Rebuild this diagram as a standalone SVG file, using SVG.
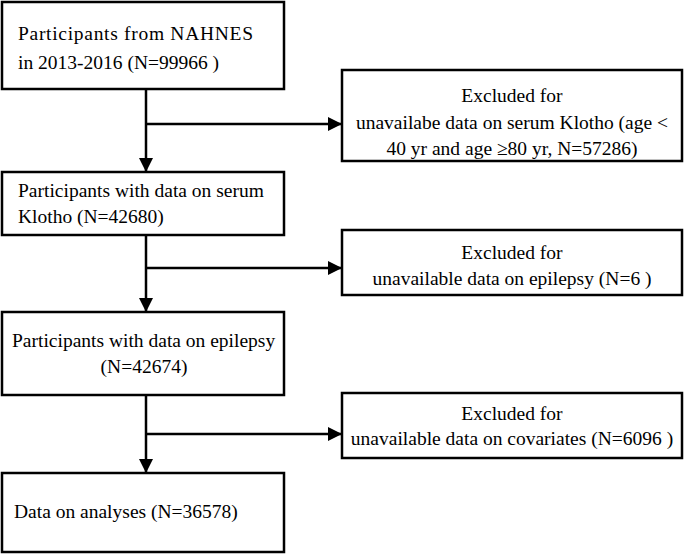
<svg xmlns="http://www.w3.org/2000/svg" width="685" height="557" viewBox="0 0 685 557">
<style>
.b{fill:#fff;stroke:#000;stroke-width:2.5}
text{font-family:"Liberation Serif",serif;font-size:19.5px;fill:#000}
.c{text-anchor:middle}
line{stroke:#000;stroke-width:2.5}
</style>
<defs><marker id="b" markerWidth="14" markerHeight="14" refX="13" refY="7" orient="auto" markerUnits="userSpaceOnUse" viewBox="0 0 14 14"><path d="M0,0 L14,7 L0,14 z" fill="#000"/></marker></defs>
<rect width="685" height="557" fill="#fff"/>
<g id="n1"><rect class="b" x="2" y="2" width="282" height="87"/><text x="18" y="40" textLength="235">Participants from NAHNES</text><text x="18" y="69">in 2013-2016 (N=99966 )</text></g>
<g id="n2"><rect class="b" x="342" y="70" width="340" height="91"/><text class="c" x="512" y="102">Excluded for</text><text class="c" x="512" y="129">unavailabe data on serum Klotho (age &lt;</text><text class="c" x="512" y="155">40 yr and age ≥80 yr, N=57286)</text></g>
<g id="n3"><rect class="b" x="2" y="172" width="282" height="63"/><text x="18" y="197">Participants with data on serum</text><text x="18" y="223">Klotho (N=42680)</text></g>
<g id="n4"><rect class="b" x="342" y="230" width="340" height="65"/><text class="c" x="512" y="259">Excluded for</text><text class="c" x="512" y="285">unavailable data on epilepsy (N=6 )</text></g>
<g id="n5"><rect class="b" x="2" y="312" width="282" height="83"/><text x="12" y="347">Participants with data on epilepsy</text><text class="c" x="144" y="373">(N=42674)</text></g>
<g id="n6"><rect class="b" x="342" y="393" width="340" height="65"/><text class="c" x="512" y="420">Excluded for</text><text class="c" x="512" y="445">unavailable data on covariates (N=6096 )</text></g>
<g id="n7"><rect class="b" x="2" y="473" width="282" height="79"/><text x="14" y="518">Data on analyses (N=36578)</text></g>
<g id="connectors">
<line x1="146" y1="89" x2="146" y2="171" marker-end="url(#b)"/>
<line x1="146" y1="124" x2="341" y2="124" marker-end="url(#b)"/>
<line x1="146" y1="235" x2="146" y2="311" marker-end="url(#b)"/>
<line x1="146" y1="268" x2="341" y2="268" marker-end="url(#b)"/>
<line x1="146" y1="395" x2="146" y2="472" marker-end="url(#b)"/>
<line x1="146" y1="434" x2="341" y2="434" marker-end="url(#b)"/>
</g>
</svg>
